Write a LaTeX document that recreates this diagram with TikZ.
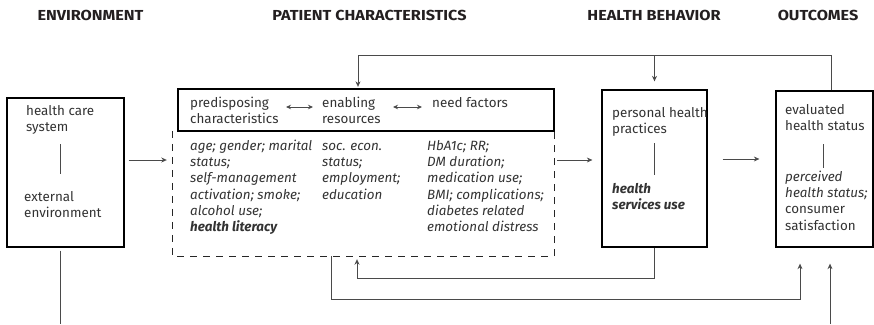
\documentclass[tikz,border=0pt]{standalone}
\usepackage{fontspec}
\setmainfont{Fira Sans}
\newfontfamily\headfont{Fira Sans}[FakeStretch=1.12]
\usetikzlibrary{arrows.meta,calc}
\definecolor{ink}{HTML}{333333}
\definecolor{headink}{HTML}{231F20}
\definecolor{wirec}{HTML}{4A4A4A}
\begin{document}
\begin{tikzpicture}[x=1pt,y=-1pt,
  head/.style={font=\headfont\fontsize{14.5}{16}\selectfont\bfseries, text=headink, inner sep=0},
  body/.style={font=\fontsize{13.4}{16.3}\selectfont, text=ink, align=left, inner sep=0, anchor=north west},
  frame/.style={draw=black, line width=1.3pt, rectangle, inner sep=0},
  area/.style={rectangle, inner sep=0},
  wire/.style={draw=wirec, line width=0.9pt},
  arr/.style={wire, -{Stealth[length=5.5pt,width=5pt]}},
  dbl/.style={wire, line width=0.8pt, {Stealth[length=5pt,width=4.5pt]}-{Stealth[length=5pt,width=4.5pt]}},
  divider/.style={wire, line width=0.8pt},
]
\useasboundingbox (0,0) rectangle (874,324);

% column headings
\node[head] (hEnv) at (90.5,15) {ENVIRONMENT};
\node[head] (hPat) at (369.5,15) {PATIENT CHARACTERISTICS};
\node[head] (hBeh) at (654,15) {HEALTH BEHAVIOR};
\node[head] (hOut) at (818,15) {OUTCOMES};

% boxes
\node[frame, minimum width=117pt, minimum height=149pt] (env) at (65.5,172.5) {};
\node[frame, minimum width=376pt, minimum height=42pt] (hdr) at (366,110) {};
\node[area, minimum width=381pt, minimum height=125pt] (chars) at (363.5,193.5) {};
\node[frame, minimum width=105pt, minimum height=157pt] (hb) at (654.5,168.5) {};
\node[frame, minimum width=97pt, minimum height=156pt] (out) at (824.5,169) {};

% dashed frame of the characteristics block
\draw[draw=black!85, line width=1.1pt, dash pattern=on 7pt off 6pt]
  (chars.north west) -- (chars.south west) -- (chars.south east) -- (chars.north east);

% environment
\node[body] (hcs) at (26,103.5) {\strut health care\\system};
\node[body] (ext) at (24,189.5) {\strut external\\environment};
\draw[divider] ($(env.center)+(-5.5,-28.5)$) -- ($(env.center)+(-5.5,1.5)$);

% patient characteristics: header row
\node[body] (pre) at (190,95.5) {\strut predisposing\\characteristics};
\node[body] (ena) at (322,95.5) {\strut enabling\\resources};
\node[body] (need) at (432,95.5) {\strut need factors};
\coordinate (a1) at (286,107);
\coordinate (a2) at (313,107);
\coordinate (a3) at (393,107);
\coordinate (a4) at (422,107);
\draw[dbl] (a1) -- (a2);
\draw[dbl] (a3) -- (a4);

% patient characteristics: variables
\node[body] (c1) at (190,138.5) {\strut\itshape age; gender; marital\\\itshape status;\\\itshape self-management\\\itshape activation; smoke;\\\itshape alcohol use;\\\bfseries\itshape health literacy};
\node[body] (c2) at (322,138.5) {\strut\itshape soc. econ.\\\itshape status;\\\itshape employment;\\\itshape education};
\node[body] (c3) at (427,138.5) {\strut\itshape HbA1c; RR;\\\itshape DM duration;\\\itshape medication use;\\\itshape BMI; complications;\\\itshape diabetes related\\\itshape emotional distress};

% health behaviour
\node[body] (php) at (612,105.5) {\strut personal health\\practices};
\node[body] (hsu) at (612,181.5) {\strut\bfseries\itshape health\\\bfseries\itshape services use};
\draw[divider] ($(hb.center)+(-0.5,-25.5)$) -- ($(hb.center)+(-0.5,6.5)$);

% outcomes
\node[body] (ehs) at (785,102.5) {\strut evaluated\\health status};
\node[body] (phs) at (785,169.5) {\strut\itshape perceived\\\itshape health status;\\consumer\\satisfaction};
\draw[divider] ($(out.center)+(-1.5,-25)$) -- ($(out.center)+(-1.5,-1)$);

% main flow
\coordinate (row) at (0,160);
\coordinate (rowb) at (0,159);
\draw[arr, shorten <=4pt, shorten >=6pt] (env.east |- row) -- (chars.west |- row);
\draw[arr, shorten <=3pt, shorten >=9pt] (chars.east |- row) -- (hb.west |- row);
\draw[arr, shorten <=15pt, shorten >=16pt] (hb.east |- rowb) -- (out.west |- rowb);

% feedback along the top
\coordinate (top) at (0,55);
\coordinate (fbR) at ($(out.north)+(6.5,0)$);
\coordinate (fbL) at ($(hdr.north)+(-8,0)$);
\draw[arr, shorten >=1.5pt] (fbR) -- (fbR |- top) -- (fbL |- top) -- (fbL);
\draw[arr, shorten >=8pt] (hb.north |- top) -- (hb.north);

% feedback along the bottom
\coordinate (low1) at (0,278);
\coordinate (low2) at (0,299);
\coordinate (base) at (0,324);
\coordinate (inA) at ($(chars.south)+(-6.5,0)$);
\coordinate (fromC) at ($(chars.south)+(-32.5,0)$);
\coordinate (outA) at ($(out.south)+(-24.5,0)$);
\coordinate (outB) at ($(out.south)+(5.5,0)$);
\coordinate (envB) at ($(env.south)+(-5.5,0)$);
\draw[arr, shorten >=3pt] (hb.south) -- (hb.south |- low1) -- (inA |- low1) -- (inA);
\draw[arr, shorten >=16pt] (fromC) -- (fromC |- low2) -- (outA |- low2) -- (outA);
\draw[wire, shorten <=3pt] (envB) -- (envB |- base);
\draw[arr, shorten >=16pt] (outB |- base) -- (outB);
\end{tikzpicture}
\end{document}
